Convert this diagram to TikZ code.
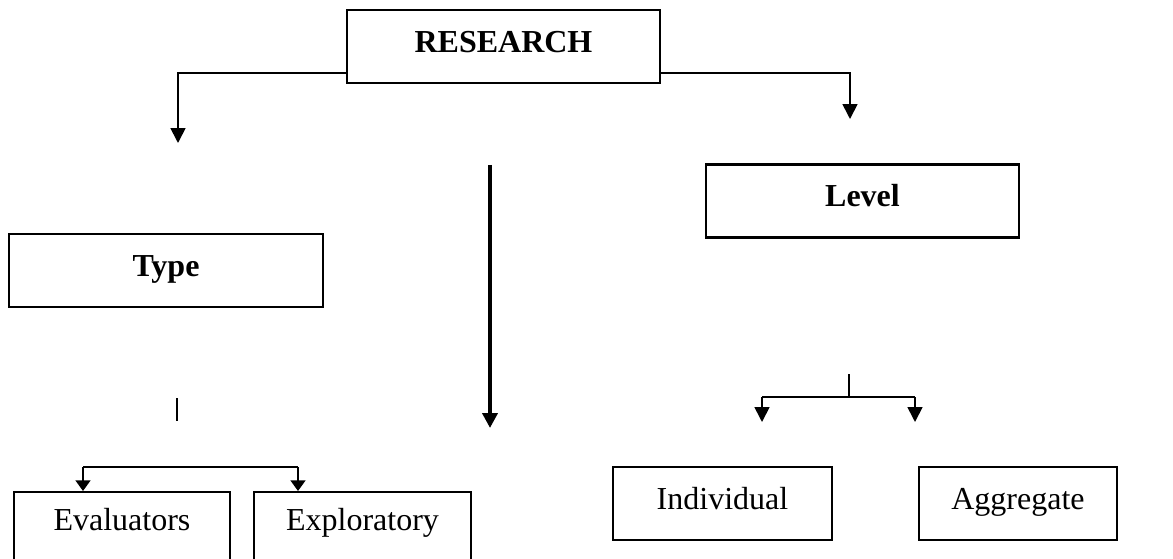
\documentclass[tikz,border=0pt]{standalone}
\usepackage{fontspec}
\setmainfont{Liberation Serif}
\usepackage{tikz}
\usetikzlibrary{arrows.meta,positioning}

\begin{document}
\begin{tikzpicture}[
  x=0.375pt, y=-0.375pt,
  font=\fontsize{12}{14}\selectfont,
  box/.style={draw, line width=0.85pt, align=center, inner sep=0pt,
              text height=8pt, text depth=3.5pt, minimum height=27.4pt},
  cutbox/.style={draw, line width=0.85pt, align=center, inner sep=0pt, anchor=north,
                 text height=8pt, text depth=19pt, minimum height=40pt},
  link/.style={line width=0.65pt},
  >={Triangle[length=5.6pt,width=5.6pt]},
  short/.style={line width=0.65pt, -{Triangle[length=4pt,width=5.6pt]}}
]
\useasboundingbox (0,0) rectangle (1173,559);
\clip (0,0) rectangle (1173,559);

\node[box, minimum width=117.4pt, font=\fontsize{12}{14}\selectfont\bfseries] (research) at (503.5,46.5) {RESEARCH};
\node[box, minimum width=117.8pt, font=\fontsize{12}{14}\selectfont\bfseries] (type) at (166,270.5) {Type};
\node[box, minimum width=117.4pt, font=\fontsize{12}{14}\selectfont\bfseries] (level) at (862.5,201) {Level};

\node[cutbox, minimum width=81pt] (eval) at (122,491) {Evaluators};
\node[cutbox, minimum width=81.4pt] (explor) at (362.5,491) {Exploratory};
\node[box, minimum width=82.1pt] (indiv) at (722.5,503.5) {Individual};
\node[box, minimum width=74.3pt] (aggr) at (1018,503.5) {Aggregate};

% free ends
\coordinate (lefttip) at (178,143);
\coordinate (righttip) at (850,119);
\coordinate (midtop) at (490,165);
\coordinate (midtip) at (490,428);
\coordinate (typestub) at (177,398);
\coordinate (typestubend) at (177,421);
\coordinate (evalbar) at (83,467);
\coordinate (explorbar) at (298,467);
\coordinate (levelstub) at (849,374);
\coordinate (levelbar) at (849,397);
\coordinate (indivbar) at (762,397);
\coordinate (aggrbar) at (915,397);
\coordinate (indivtip) at (762,422);
\coordinate (aggrtip) at (915,422);

\draw[link, ->] ([yshift=4.1pt]research.south west) -| (lefttip);
\draw[link, ->] ([yshift=4.1pt]research.south east) -| (righttip);
\draw[line width=1.5pt, ->] (midtop) -- (midtip);

\draw[link] (typestub) -- (typestubend);
\draw[link] (evalbar) -- (explorbar);
\draw[short] (evalbar) -- (evalbar |- eval.north);
\draw[short] (explorbar) -- (explorbar |- explor.north);

\draw[link] (levelstub) -- (levelbar);
\draw[link] (indivbar) -- (aggrbar);
\draw[link, ->] (indivbar) -- (indivtip);
\draw[link, ->] (aggrbar) -- (aggrtip);
\end{tikzpicture}
\end{document}
